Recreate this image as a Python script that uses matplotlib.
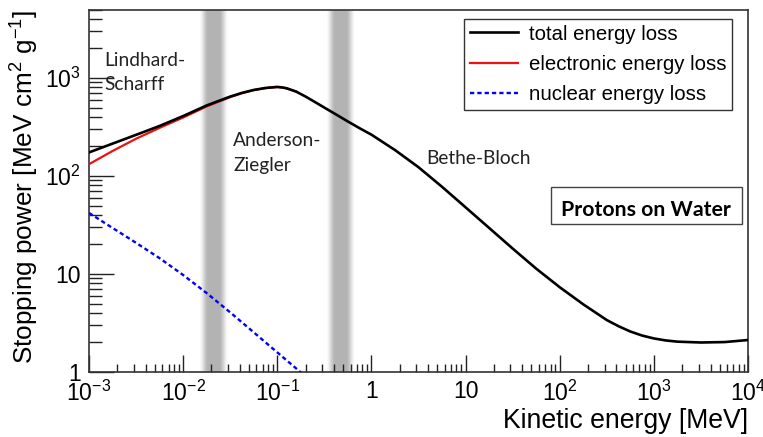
import numpy as np
import matplotlib
matplotlib.use("Agg")
import matplotlib.pyplot as plt
from matplotlib.patches import Rectangle
from matplotlib.ticker import FixedLocator, FixedFormatter, NullFormatter

plt.rcParams['font.family'] = ['Liberation Sans', 'DejaVu Sans']
plt.rcParams['mathtext.fontset'] = 'custom'
plt.rcParams['mathtext.rm'] = 'Liberation Sans'
plt.rcParams['mathtext.it'] = 'Liberation Sans:italic'
plt.rcParams['mathtext.bf'] = 'Liberation Sans:bold'

# ---------------- data ----------------
energy_total = [0.001, 0.00178, 0.00316, 0.00562, 0.01, 0.0178, 0.0316, 0.0422,
                0.0562, 0.075, 0.1, 0.112, 0.126, 0.158, 0.2, 0.251, 0.316,
                0.422, 0.562, 0.75, 1.0, 1.78, 3.16, 5.62, 10, 17.8, 31.6, 56.2,
                100, 178, 316, 422, 562, 750, 1000, 1334, 1778, 3162, 5623, 10000]
stopping_total = [174, 214, 263, 324, 409, 525, 646, 705,
                  755, 791, 811, 802, 785, 728, 646, 569, 499,
                  424, 360, 307, 264, 184, 123, 77.6, 47.9, 29.5, 18.2, 11.35,
                  7.33, 4.90, 3.39, 2.93, 2.59, 2.355, 2.20, 2.10, 2.04, 2.0, 2.02, 2.12]

energy_elec = [0.001, 0.00178, 0.00316, 0.00562, 0.01, 0.0178, 0.0316, 0.0422,
               0.0562, 0.075, 0.1, 0.112, 0.126, 0.158]
stopping_elec = [132, 180, 240, 310, 395, 513, 638, 700,
                 752, 789, 809, 800, 783, 726]

energy_nuc = [0.001, 0.00178, 0.00316, 0.00562, 0.01, 0.0178, 0.0316, 0.0562,
              0.1, 0.178, 0.2]
stopping_nuc = [42, 29.5, 20.8, 14.5, 9.77, 6.38, 4.06, 2.54,
                1.585, 0.99, 0.90]

band_centers = [0.0211, 0.474]        # MeV, gray transition regions

x_ticks = [1e-3, 1e-2, 1e-1, 1, 10, 1e2, 1e3, 1e4]
x_tick_labels = ['$10^{-3}$', '$10^{-2}$', '$10^{-1}$', '1', '10',
                 '$10^{2}$', '$10^{3}$', '$10^{4}$']
y_ticks = [1, 10, 100, 1000]
y_tick_labels = ['1', '10', '$10^{2}$', '$10^{3}$']

# ---------------- figure ----------------
fig = plt.figure(figsize=(7.63, 4.37), dpi=100)
ax = fig.add_axes([89/763, 65/437, 659/763, 362.5/437])
ax.set_xscale('log')
ax.set_yscale('log')
ax.set_xlim(1e-3, 1e4)
ax.set_ylim(1, 5000)

# soft gray bands
half_outer, half_core, depth = 0.16, 0.055, 0.30
n = 60
offs = np.linspace(-half_outer, half_outer, n + 1)
for c in band_centers:
    lc = np.log10(c)
    for i in range(n):
        mid = 0.5 * (offs[i] + offs[i + 1])
        d = abs(mid)
        if d <= half_core:
            p = 1.0
        else:
            t = (d - half_core) / (half_outer - half_core)
            p = 0.5 * (1 + np.cos(np.pi * min(t, 1)))
        col = 1 - depth * p
        ax.axvspan(10 ** (lc + offs[i]), 10 ** (lc + offs[i + 1] + 0.004),
                   color=(col, col, col), lw=0, zorder=0)

ax.plot(energy_elec, stopping_elec, color='#ee1111', lw=1.6, zorder=3,
        label='electronic energy loss')
ax.plot(energy_nuc, stopping_nuc, color='#0000ff', lw=1.7, zorder=3,
        dashes=(1.8, 1.3), label='nuclear energy loss')
ax.plot(energy_total, stopping_total, color='black', lw=1.9, zorder=4,
        label='total energy loss', solid_joinstyle='round')

# ticks
ax.xaxis.set_major_locator(FixedLocator(x_ticks))
ax.xaxis.set_major_formatter(FixedFormatter(x_tick_labels))
ax.xaxis.set_minor_formatter(NullFormatter())
ax.yaxis.set_major_locator(FixedLocator(y_ticks))
ax.yaxis.set_major_formatter(FixedFormatter(y_tick_labels))
ax.yaxis.set_minor_formatter(NullFormatter())
ax.tick_params(axis='both', which='both', direction='in', top=False, right=False,
               colors='#222222', labelcolor='black', width=1.0)
ax.tick_params(axis='x', which='major', length=12, labelsize=16.5, pad=6)
ax.tick_params(axis='x', which='minor', length=6)
ax.tick_params(axis='y', which='major', length=18, labelsize=16.5, pad=6)
ax.tick_params(axis='y', which='minor', length=9)

for s in ax.spines.values():
    s.set_color('#333333')
    s.set_linewidth(1.2)

ax.set_xlabel('Kinetic energy [MeV]', fontsize=19.2, loc='right', labelpad=2)
ax.set_ylabel('Stopping power [MeV cm$^{2}$ g$^{-1}$]', fontsize=18.8, loc='top',
              labelpad=3)

# legend
handles, labels = ax.get_legend_handles_labels()
order = [2, 0, 1]
leg = ax.legend([handles[i] for i in order], [labels[i] for i in order],
                loc='upper right', bbox_to_anchor=(0.976, 0.974), borderaxespad=0,
                fontsize=14.7, frameon=True, fancybox=False, framealpha=1,
                edgecolor='#333333', handlelength=2.35, handletextpad=0.55,
                labelspacing=0.55, borderpad=0.28)
leg.get_frame().set_linewidth(1.0)

# region annotations
afont = dict(family=['Lato', 'DejaVu Sans'], fontsize=13.8, color='#222222',
             transform=ax.transAxes, va='baseline', ha='left')
ax.text(0.0228, 0.8428, 'Lindhard-', **afont)
ax.text(0.0228, 0.7766, 'Scharff', **afont)
ax.text(0.2185, 0.6234, 'Anderson-', **afont)
ax.text(0.2185, 0.5545, 'Ziegler', **afont)
ax.text(0.5124, 0.5738, 'Bethe-Bloch', **afont)

ax.add_patch(Rectangle((0.701, 0.408), 0.9909 - 0.701, 0.5103 - 0.408,
                       transform=ax.transAxes, fill=True, facecolor='white',
                       edgecolor='#444444', lw=1.0, zorder=5))
ax.text(0.8456, 0.4303, 'Protons on Water', transform=ax.transAxes,
        ha='center', va='baseline', fontsize=15.3, fontweight='bold',
        family=['Lato', 'DejaVu Sans'], color='black', zorder=6)

fig.savefig('out.png', dpi=100)
